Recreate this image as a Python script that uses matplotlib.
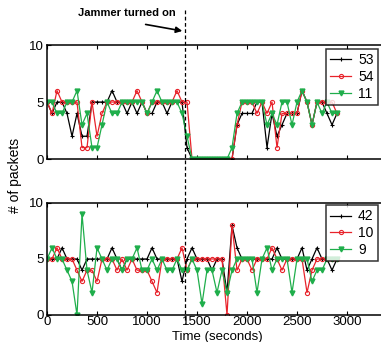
import numpy as np
import matplotlib
matplotlib.use("Agg")
import matplotlib.pyplot as plt
from matplotlib.lines import Line2D
from matplotlib.transforms import blended_transform_factory

plt.rcParams["font.family"] = ["Liberation Sans", "DejaVu Sans"]

# -------------------------
# Data (packets per 50 s window)
# -------------------------
time_s = np.arange(0, 2950, 50)

node_53 = [5, 4, 5, 5, 4, 2, 4, 2, 2, 5, 5, 5, 5, 6, 5, 5, 4, 5, 4, 5,
           4, 4, 5, 5, 4, 5, 5, 5, 1, 0, 0, 0, 0, 0, 0, 0, 0, 0, 3, 4,
           4, 4, 5, 5, 1, 4, 2, 3, 4, 4, 4, 6, 5, 3, 5, 5, 4, 3, 4]
node_54 = [5, 4, 6, 5, 5, 5, 5, 1, 1, 5, 2, 4, 5, 5, 5, 5, 5, 5, 6, 5,
           4, 5, 5, 5, 5, 5, 6, 5, 5, 0, 0, 0, 0, 0, 0, 0, 0, 0, 3, 5,
           5, 5, 4, 5, 4, 5, 1, 4, 4, 4, 4, 6, 5, 3, 5, 5, 5, 5, 4]
node_11 = [5, 5, 4, 4, 5, 5, 6, 3, 4, 1, 1, 3, 5, 4, 4, 5, 5, 5, 5, 5,
           4, 5, 6, 5, 5, 5, 5, 4, 2, 0, 0, 0, 0, 0, 0, 0, 0, 1, 4, 5,
           5, 5, 5, 5, 3, 4, 3, 5, 5, 3, 5, 6, 5, 3, 5, 4, 5, 4, 4]

node_42 = [5, 5, 5, 6, 5, 5, 5, 4, 5, 5, 5, 5, 5, 6, 5, 4, 5, 5, 5, 5,
           5, 6, 5, 5, 5, 5, 5, 3, 5, 6, 5, 5, 5, 4, 5, 5, 2, 8, 6, 5,
           5, 5, 5, 5, 5, 5, 6, 5, 5, 5, 5, 6, 4, 5, 6, 5, 5, 4, 5]
node_10 = [5, 5, 6, 5, 5, 5, 4, 3, 4, 4, 3, 5, 5, 5, 4, 5, 4, 5, 4, 4,
           4, 3, 2, 5, 5, 5, 5, 6, 4, 5, 5, 5, 5, 5, 5, 5, 0, 8, 4, 5,
           5, 4, 5, 5, 5, 6, 5, 4, 5, 5, 5, 5, 2, 4, 5, 5, 5, 5, 5]
node_9 = [5, 6, 5, 5, 4, 3, 0, 9, 4, 2, 6, 5, 4, 5, 5, 4, 5, 5, 6, 4,
          4, 5, 4, 5, 4, 4, 5, 4, 4, 5, 4, 1, 4, 4, 2, 4, 2, 4, 5, 5,
          5, 5, 2, 5, 6, 4, 5, 5, 5, 2, 5, 5, 5, 3, 4, 4, 5, 5, 5]

jammer_time = 1380

RED = "#e8232b"
GREEN = "#1fae4b"

fig = plt.figure(figsize=(3.81, 3.42), dpi=100)
ax1 = fig.add_axes([0.1234, 0.535, 0.9186, 0.3333])
ax2 = fig.add_axes([0.1234, 0.079, 0.9186, 0.3275])


def draw_panel(ax, series, labels, legend_top):
    ax.plot(time_s, series[0], color="black", lw=0.9, marker="+",
            ms=3, mew=0.8, label=labels[0])
    ax.plot(time_s, series[1], color=RED, lw=0.9, marker="o", ms=3,
            mfc="none", mew=0.8, label=labels[1])
    ax.plot(time_s, series[2], color=GREEN, lw=0.9, marker="v", ms=3.5,
            label=labels[2])
    ax.set_xlim(0, 3500)
    ax.set_ylim(0, 10)
    ax.set_yticks([0, 5, 10])
    ax.set_xticks([0, 500, 1000, 1500, 2000, 2500, 3000])
    ax.tick_params(direction="in", labelsize=9.5, length=3, top=True,
                   pad=2)
    ax.tick_params(axis="x", pad=1)
    for sp in ax.spines.values():
        sp.set_linewidth(1.1)
    leg = ax.legend(loc="upper left", bbox_to_anchor=(0.856, legend_top),
                    bbox_transform=fig.transFigure, fontsize=10,
                    frameon=True, fancybox=False, handlelength=1.5,
                    borderpad=0.3, labelspacing=0.2, handletextpad=0.5,
                    borderaxespad=0)
    leg.get_frame().set_edgecolor("black")
    leg.get_frame().set_linewidth(1.1)


draw_panel(ax1, [node_53, node_54, node_11], ["53", "54", "11"], 0.857)
draw_panel(ax2, [node_42, node_10, node_9], ["42", "10", "9"], 0.40)
ax1.tick_params(labelbottom=False)

# jammer line across both panels
trans = blended_transform_factory(ax2.transData, fig.transFigure)
fig.add_artist(Line2D([jammer_time, jammer_time], [0.97, 0.055],
                      transform=trans, color="black", lw=0.9,
                      linestyle=(0, (3, 2))))

fig.text(0.205, 0.962, "Jammer turned on", fontsize=8, fontweight="bold",
         ha="left", va="center")
ax2.annotate("", xy=(jammer_time, 0.908), xycoords=trans,
             xytext=(0.375, 0.930), textcoords=fig.transFigure,
             arrowprops=dict(arrowstyle="-|>", color="black", lw=1.2,
                             mutation_scale=9),
             annotation_clip=False)

fig.text(0.04, 0.486, "# of packets", rotation=90, fontsize=10,
         ha="center", va="center")
fig.text(0.57, -0.003, "Time (seconds)", fontsize=9.5, ha="center",
         va="bottom")

fig.savefig("out.png", dpi=100)
